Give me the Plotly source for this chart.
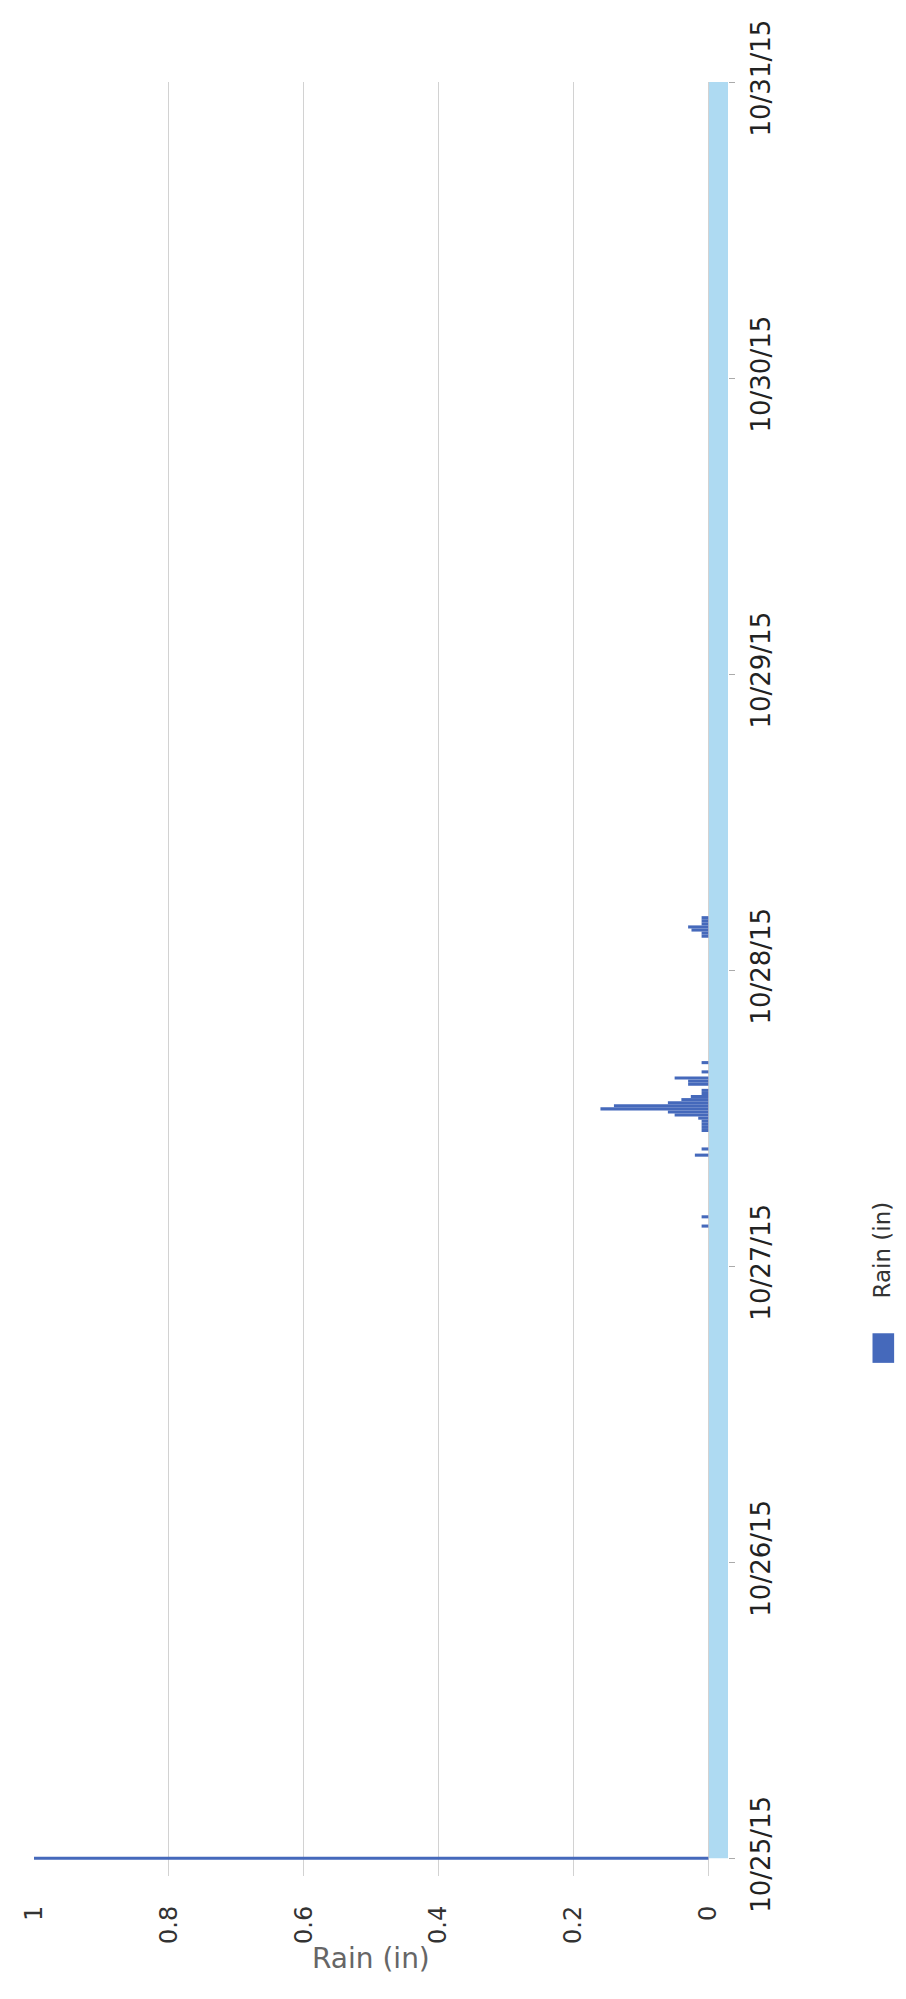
import plotly.graph_objects as go

# ---------------- data ----------------
rain_times = [
    "2015-10-25 00:00",
    "2015-10-27 03:15", "2015-10-27 04:00",
    "2015-10-27 09:00", "2015-10-27 09:30",
    "2015-10-27 11:00", "2015-10-27 11:15", "2015-10-27 11:30", "2015-10-27 11:45",
    "2015-10-27 12:00", "2015-10-27 12:15", "2015-10-27 12:30", "2015-10-27 12:45",
    "2015-10-27 13:00", "2015-10-27 13:15", "2015-10-27 13:30", "2015-10-27 13:45",
    "2015-10-27 14:00", "2015-10-27 14:15", "2015-10-27 14:45", "2015-10-27 15:00",
    "2015-10-27 15:15", "2015-10-27 15:45", "2015-10-27 16:30",
    "2015-10-28 02:45", "2015-10-28 03:00", "2015-10-28 03:15", "2015-10-28 03:30",
    "2015-10-28 03:45", "2015-10-28 04:00", "2015-10-28 04:15",
]
rain_values = [
    1.0,
    0.01, 0.01,
    0.02, 0.01,
    0.01, 0.01, 0.01, 0.01,
    0.015, 0.05, 0.06, 0.16,
    0.14, 0.06, 0.04, 0.026,
    0.01, 0.01, 0.03, 0.03,
    0.05, 0.01, 0.01,
    0.01, 0.01, 0.025, 0.03,
    0.01, 0.01, 0.01,
]
value_ticks = [0, 0.2, 0.4, 0.6, 0.8, 1]
value_tick_labels = ["0", "0.2", "0.4", "0.6", "0.8", "1"]
date_start = "2015-10-25 00:00"
date_end = "2015-10-31 00:00"
axis_date_min = "2015-10-24 22:33:36"
value_min = -0.02915
value_max = 1.0
interval_ms = 15 * 60 * 1000

# ---------------- figure ----------------
# the page body adds an 8px margin, so the figure is 16px smaller than the window
W, H = 890, 1983
L, R, T, B = 14, 720, 50, 1868
FONT = "DejaVu Sans"
BAR_COLOR = "#4569bb"

fig = go.Figure()
fig.add_trace(go.Bar(
    x=rain_values, y=rain_times, orientation="h",
    width=[interval_ms] * len(rain_values),
    marker=dict(color=BAR_COLOR, line=dict(width=0)),
    name="Rain (in)",
))

# light blue band along the date axis
fig.add_shape(type="rect", xref="x", yref="y",
              x0=0, x1=value_min, y0=date_start, y1=date_end,
              fillcolor="#aedaf2", line=dict(width=0), layer="below")

def px_to_paper_x(px):
    return (px - L) / (R - L)

def px_to_paper_y(py):
    return (B - py) / (B - T)

# legend (rotated, drawn manually)
fig.add_shape(type="rect", xref="paper", yref="paper",
              x0=px_to_paper_x(867), x1=px_to_paper_x(889),
              y0=px_to_paper_y(1348), y1=px_to_paper_y(1318),
              fillcolor=BAR_COLOR, line=dict(width=0))
fig.add_annotation(text="Rain (in)", xref="paper", yref="paper",
                   x=px_to_paper_x(877), y=px_to_paper_y(1285),
                   xanchor="center", yanchor="bottom", textangle=-90,
                   showarrow=False, font=dict(family=FONT, size=23, color="#333333"))

# axis title
fig.add_annotation(text="Rain (in)", xref="x", yref="paper",
                   x=0.5, y=px_to_paper_y(1952), xanchor="center", yanchor="middle",
                   showarrow=False, font=dict(family=FONT, size=28, color="#666666"))

fig.update_layout(
    width=W, height=H,
    margin=dict(l=L, r=W - R, t=T, b=H - B, pad=0),
    plot_bgcolor="white", paper_bgcolor="white",
    showlegend=False,
    xaxis=dict(
        range=[value_max, value_min],
        tickvals=value_ticks, ticktext=value_tick_labels,
        tickangle=-90, showgrid=True, gridcolor="#d2d2d2", gridwidth=1,
        zeroline=False, showline=False, ticks="",
        ticklabelstandoff=24, ticklabeloverflow="allow",
        tickfont=dict(family=FONT, size=24, color="#333333"),
    ),
    yaxis=dict(
        type="date", range=[axis_date_min, date_end], side="right",
        tickformat="%m/%d/%y", dtick=86400000, tick0=date_start,
        tickangle=-90, showgrid=False, zeroline=False, showline=False,
        ticks="outside", ticklen=6, tickcolor="#aaaaaa", tickwidth=1,
        ticklabelstandoff=4, ticklabeloverflow="allow",
        tickfont=dict(family=FONT, size=26, color="#222222"),
    ),
)

fig.write_html("out.html")
